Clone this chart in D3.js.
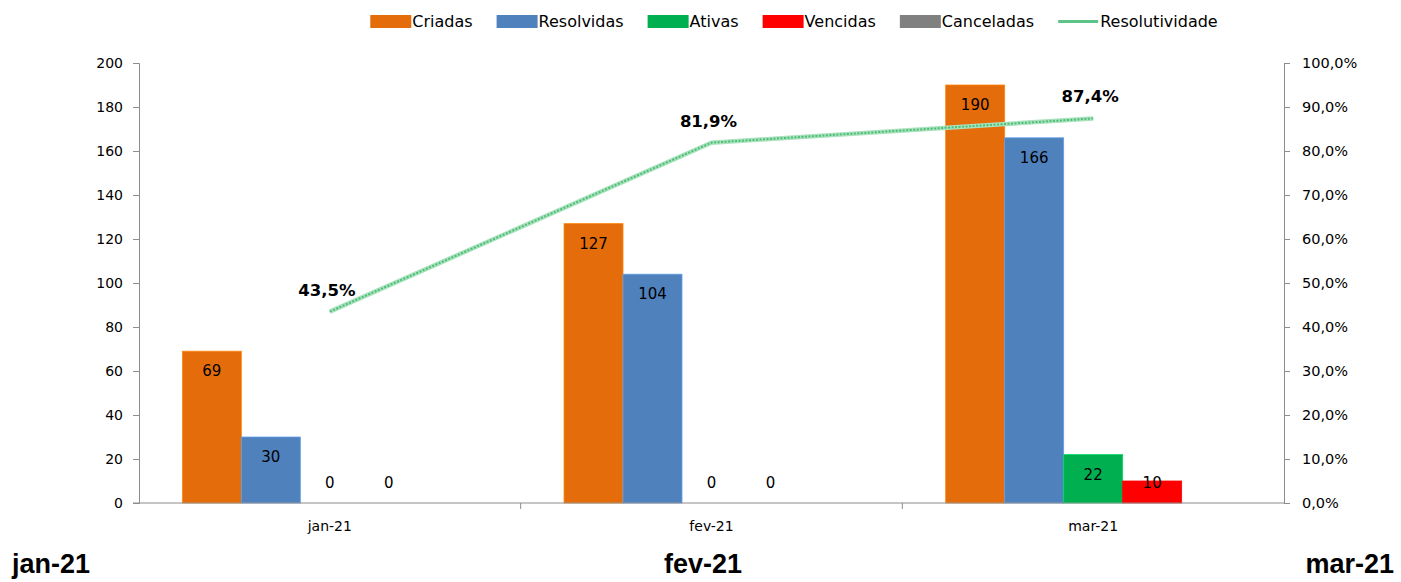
<!DOCTYPE html>
<html>
<head>
<meta charset="utf-8">
<title>Resolutividade</title>
<script src="https://d3js.org/d3.v7.min.js"></script>
<style>
  body { margin: 0; background: #fff; }
  svg text { font-family: "DejaVu Sans", Tahoma, sans-serif; fill: #000; }
</style>
</head>
<body>
<script>

// data
var months = ["jan-21", "fev-21", "mar-21"];
var criadas = [69, 127, 190];
var resolvidas = [30, 104, 166];
var ativas = [0, 0, 22];
var vencidas = [0, 0, 10];
var canceladas = [null, null, null];
var resolutividade = [0.435, 0.819, 0.874];
var yTicks = [0, 20, 40, 60, 80, 100, 120, 140, 160, 180, 200];
var y2Ticks = [0, 0.1, 0.2, 0.3, 0.4, 0.5, 0.6, 0.7, 0.8, 0.9, 1.0];

var seriesNames = ["Criadas", "Resolvidas", "Ativas", "Vencidas", "Canceladas"];
var seriesValues = [criadas, resolvidas, ativas, vencidas, canceladas];
var colors = ["#E46C0A", "#4F81BD", "#00B050", "#FF0000", "#808080"];

var W = 1401, H = 582;
var margin = { top: 63, right: 117, bottom: 79, left: 139 };
var width = W - margin.left - margin.right,
    height = H - margin.top - margin.bottom;

var svg = d3.select("body").append("svg")
    .attr("width", W)
    .attr("height", H);

var g = svg.append("g")
    .attr("transform", "translate(" + margin.left + "," + margin.top + ")");

var x0 = d3.scaleBand().domain(months).range([0, width]).padding(0);
var x1 = d3.scaleBand().domain(seriesNames).range([0, x0.bandwidth()])
    .paddingInner(0).paddingOuter(0.735);
var y = d3.scaleLinear().domain([0, 200]).range([height, 0]);
var y2 = d3.scaleLinear().domain([0, 1]).range([height, 0]);

var axisColor = "#8c8c8c";

// bars
var rows = [];
months.forEach(function(m, i) {
    seriesNames.forEach(function(s, j) {
        rows.push({ month: m, series: s, value: seriesValues[j][i], color: colors[j] });
    });
});

g.selectAll(".bar")
    .data(rows.filter(function(d) { return d.value != null; }))
    .enter().append("rect")
    .attr("class", "bar")
    .attr("x", function(d) { return x0(d.month) + x1(d.series); })
    .attr("y", function(d) { return y(d.value); })
    .attr("width", x1.bandwidth())
    .attr("height", function(d) { return height - y(d.value); })
    .attr("fill", function(d) { return d.color; })
    .attr("stroke", function(d) { return d3.color(d.color).brighter(0.6); })
    .attr("stroke-width", 0.8);

g.selectAll(".barlabel")
    .data(rows.filter(function(d) { return d.value != null; }))
    .enter().append("text")
    .attr("class", "barlabel")
    .attr("x", function(d) { return x0(d.month) + x1(d.series) + x1.bandwidth() / 2; })
    .attr("y", function(d) { return Math.min(y(d.value) + 20, height - 20); })
    .attr("dy", "0.35em")
    .attr("text-anchor", "middle")
    .style("font-size", "15px")
    .text(function(d) { return d.value; });

// left axis
var yAxis = d3.axisLeft(y).tickValues(yTicks).tickSize(6).tickPadding(10);
g.append("g").attr("class", "y axis").call(yAxis);

// right axis
var fmtPct = function(v) { return d3.format(".1f")(v * 100).replace(".", ",") + "%"; };
var y2Axis = d3.axisRight(y2).tickValues(y2Ticks).tickSize(6).tickPadding(12).tickFormat(fmtPct);
g.append("g").attr("class", "y2 axis")
    .attr("transform", "translate(" + width + ",0)")
    .call(y2Axis);

// bottom axis
var xAxis = d3.axisBottom(x0).tickSize(0).tickPadding(18);
var xg = g.append("g").attr("class", "x axis")
    .attr("transform", "translate(0," + height + ")")
    .call(xAxis);
xg.select(".domain").attr("d", "M-6,0H" + width);
xg.selectAll(".sep")
    .data(months.slice(1))
    .enter().append("line")
    .attr("class", "sep")
    .attr("x1", function(d) { return x0(d); })
    .attr("x2", function(d) { return x0(d); })
    .attr("y1", 0).attr("y2", 6)
    .attr("stroke", axisColor);

g.selectAll(".axis .domain, .axis line").attr("stroke", axisColor);
g.selectAll(".axis text").style("font-size", "14px").attr("fill", "#000");
g.selectAll(".y2 text").style("font-size", "14.5px");

// line
var pts = months.map(function(m, i) {
    return { month: m, value: resolutividade[i] };
});
var line = d3.line()
    .x(function(d) { return x0(d.month) + x0.bandwidth() / 2; })
    .y(function(d) { return y2(d.value); });

g.append("path").datum(pts)
    .attr("d", line)
    .attr("fill", "none")
    .attr("stroke", "#a9e2bd")
    .attr("stroke-width", 4.5);
g.append("path").datum(pts)
    .attr("d", line)
    .attr("fill", "none")
    .attr("stroke", "#4dbd78")
    .attr("stroke-width", 2)
    .attr("stroke-dasharray", "2,1.5");

g.selectAll(".pctlabel")
    .data(pts)
    .enter().append("text")
    .attr("class", "pctlabel")
    .attr("x", function(d) { return x0(d.month) + x0.bandwidth() / 2 - 3; })
    .attr("y", function(d) { return y2(d.value) - 16; })
    .attr("text-anchor", "middle")
    .style("font-size", "16.5px")
    .style("font-weight", "bold")
    .text(function(d) { return fmtPct(d.value); });

// legend
var legend = svg.append("g").attr("class", "legend");
var lx = 0;
var legendItems = seriesNames.concat(["Resolutividade"]);
legendItems.forEach(function(name, i) {
    var item = legend.append("g").attr("transform", "translate(" + lx + ",0)");
    if (i < seriesNames.length) {
        item.append("rect")
            .attr("x", 0).attr("y", 15)
            .attr("width", 41).attr("height", 13)
            .attr("fill", colors[i]);
    } else {
        item.append("line")
            .attr("x1", 0).attr("x2", 40)
            .attr("y1", 21.5).attr("y2", 21.5)
            .attr("stroke", "#5cc486")
            .attr("stroke-width", 3);
    }
    var t = item.append("text")
        .attr("x", 42).attr("y", 21.5)
        .attr("dy", "0.35em")
        .style("font-size", "16px")
        .text(name);
    lx += 42 + t.node().getComputedTextLength() + 24;
});
var legendWidth = lx - 24;
legend.attr("transform", "translate(" + (794 - legendWidth / 2) + ",0)");

// big month labels at the bottom
var bigLabels = svg.append("g").attr("class", "biglabels");
months.forEach(function(m, i) {
    var anchor = i === 0 ? "start" : (i === months.length - 1 ? "end" : "middle");
    var xPos = i === 0 ? 12 : (i === months.length - 1 ? 1394 : 703);
    bigLabels.append("text")
        .attr("x", xPos)
        .attr("y", 573)
        .attr("text-anchor", anchor)
        .style("font-family", "'Liberation Sans', Arial, sans-serif")
        .style("font-size", "27px")
        .style("font-weight", "bold")
        .text(m);
});

</script>
</body>
</html>
